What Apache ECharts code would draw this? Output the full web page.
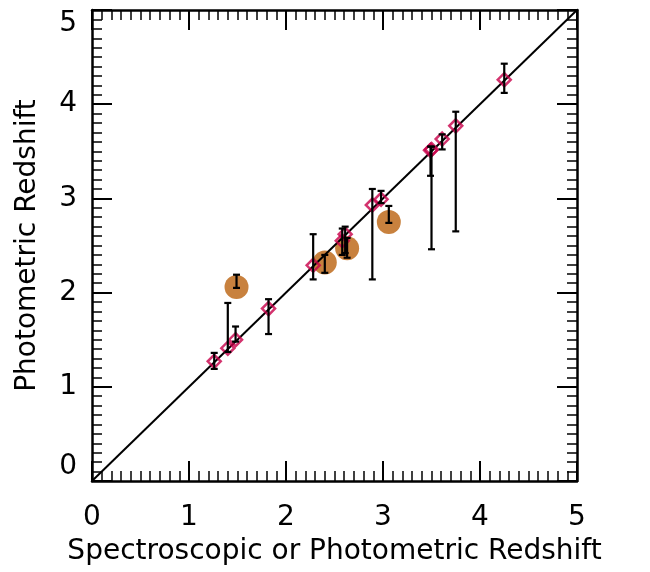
<!DOCTYPE html>
<html><head><meta charset="utf-8">
<script src="https://cdn.jsdelivr.net/npm/echarts@6/dist/echarts.min.js"></script>
<style>html,body{margin:0;padding:0;background:#fff}#c{width:650px;height:572px}</style>
</head><body><div id="c"></div>
<script>
// Diamonds: spectroscopic/photometric redshift vs photometric redshift
const diamondX   = [1.26, 1.40, 1.48, 1.82, 2.28, 2.58, 2.61, 2.89, 2.98, 3.49, 3.50, 3.61, 3.75, 4.25];
const diamondY   = [1.27, 1.41, 1.50, 1.83, 2.29, 2.55, 2.62, 2.93, 2.99, 3.51, 3.52, 3.63, 3.77, 4.26];
const diamondLo  = [1.19, 1.37, 1.48, 1.56, 2.14, 2.40, 2.42, 2.14, 2.95, 3.24, 2.46, 3.52, 2.65, 4.12];
const diamondHi  = [1.36, 1.89, 1.64, 1.93, 2.62, 2.68, 2.70, 3.10, 3.08, 3.55, 3.55, 3.68, 3.92, 4.43];
// Circles
const circleX  = [1.49, 2.40, 2.63, 3.06];
const circleY  = [2.06, 2.32, 2.47, 2.75];
const circleLo = [2.05, 2.21, 2.37, 2.74];
const circleHi = [2.19, 2.40, 2.58, 2.92];
const lineX = [0, 5];
const lineY = [0, 5];
const ticks = [0, 1, 2, 3, 4, 5];

const font = 'DejaVu Sans';
const errData = [];
diamondX.forEach((x,i)=>errData.push([x, diamondLo[i], diamondHi[i]]));
circleX.forEach((x,i)=>errData.push([x, circleLo[i], circleHi[i]]));

function axisCommon(show){
  return {
    min: ticks[0], max: ticks[ticks.length-1], interval: 1,
    axisLine:{show:true, onZero:false, lineStyle:{color:'#000', width:2.5}},
    axisTick:{show:true, inside:true, length:20, lineStyle:{color:'#000', width:2}},
    minorTick:{show:true, splitNumber:10, length:10, lineStyle:{color:'#000', width:1.5}},
    splitLine:{show:false},
    axisLabel:{show:show, color:'#000', fontFamily:font, fontSize:28}
  };
}
const chart = echarts.init(document.getElementById('c'), null, {renderer:'canvas'});
const xb = axisCommon(true); xb.axisLabel.margin = 23;
const yl = axisCommon(true); yl.axisLabel.margin = 15;
yl.axisLabel.verticalAlignMinLabel = 'bottom';
yl.axisLabel.verticalAlignMaxLabel = 'top';
chart.setOption({
  animation:false,
  backgroundColor:'#fff',
  grid:{left:92, right:73, top:10, bottom:91},
  xAxis:[
    Object.assign(xb, {type:'value', position:'bottom',
      name:'Spectroscopic or Photometric Redshift', nameLocation:'middle', nameGap:57,
      nameTextStyle:{color:'#000', fontFamily:font, fontSize:28}}),
    Object.assign(axisCommon(false), {type:'value', position:'top'})
  ],
  yAxis:[
    Object.assign(yl, {type:'value', position:'left',
      name:'Photometric Redshift', nameLocation:'middle', nameGap:50,
      nameTextStyle:{color:'#000', fontFamily:font, fontSize:28}}),
    Object.assign(axisCommon(false), {type:'value', position:'right'})
  ],
  series:[
    {type:'scatter', z:1, symbol:'circle', symbolSize:24,
     itemStyle:{color:'#c8813e', opacity:1},
     data: circleX.map((x,i)=>[x, circleY[i]])},
    {type:'line', z:2, symbol:'none', lineStyle:{color:'#000', width:2},
     data: lineX.map((x,i)=>[x, lineY[i]])},
    {type:'scatter', z:3, symbol:'diamond', symbolSize:[13,13],
     itemStyle:{color:'rgba(0,0,0,0)', borderColor:'#c8004a', borderWidth:2.5},
     data: diamondX.map((x,i)=>[x, diamondY[i]])},
    {type:'custom', z:4, data: errData,
     renderItem:function(params, api){
       const x = api.value(0);
       const lo = api.coord([x, api.value(1)]);
       const hi = api.coord([x, api.value(2)]);
       const cw = 3.5;
       const st = {stroke:'#000', lineWidth:2.2};
       return {type:'group', children:[
         {type:'line', shape:{x1:lo[0], y1:lo[1], x2:hi[0], y2:hi[1]}, style:st},
         {type:'line', shape:{x1:lo[0]-cw, y1:lo[1], x2:lo[0]+cw, y2:lo[1]}, style:st},
         {type:'line', shape:{x1:hi[0]-cw, y1:hi[1], x2:hi[0]+cw, y2:hi[1]}, style:st}
       ]};
     }}
  ]
});
</script></body></html>
